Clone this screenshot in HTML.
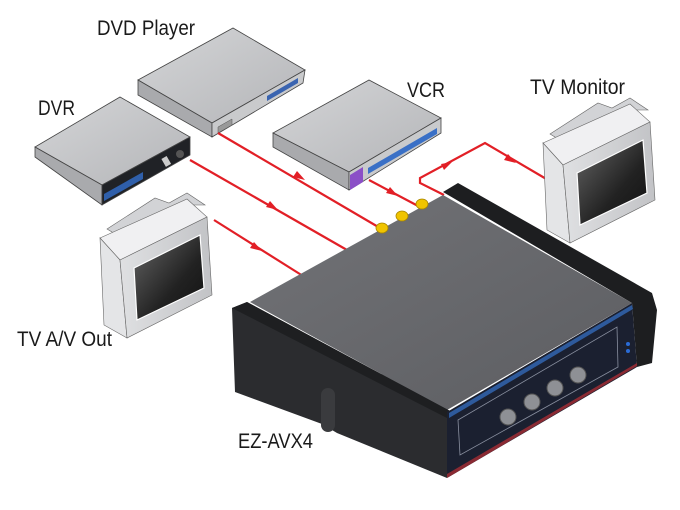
<!DOCTYPE html>
<html><head><meta charset="utf-8"><style>
html,body{margin:0;padding:0;background:#fff;}
svg{display:block;}
text{font-family:"Liberation Sans",sans-serif;fill:#1a1a1a;}
</style></head><body>
<svg width="680" height="510" viewBox="0 0 680 510" xmlns="http://www.w3.org/2000/svg">
<defs>
<linearGradient id="topg" x1="0" y1="0" x2="1" y2="1"><stop offset="0" stop-color="#d4d5d7"/><stop offset="1" stop-color="#b4b5b8"/></linearGradient>
<linearGradient id="swtop" x1="0" y1="0" x2="1" y2="1"><stop offset="0" stop-color="#727377"/><stop offset="1" stop-color="#5c5d61"/></linearGradient>
<linearGradient id="scr" x1="0" y1="0" x2="1" y2="1"><stop offset="0" stop-color="#666"/><stop offset="0.6" stop-color="#222"/><stop offset="1" stop-color="#111"/></linearGradient>
<linearGradient id="tvf" x1="0" y1="0" x2="1" y2="0"><stop offset="0" stop-color="#dfe0e2"/><stop offset="1" stop-color="#c2c3c6"/></linearGradient>
<g id="tv">
<polygon points="550,134 598,103 612,108 630,98 648,110 632,110 560,140" fill="#d2d3d6" stroke="#666" stroke-width="0.6"/>
<polygon points="543,143 630,104 650,122 563,165" fill="#f0f0f2" stroke="#666" stroke-width="0.6"/>
<polygon points="543,143 563,165 570,243 547,230" fill="#e4e5e7" stroke="#666" stroke-width="0.6"/>
<polygon points="563,165 650,122 655,200 570,243" fill="url(#tvf)" stroke="#666" stroke-width="0.6"/>
<polygon points="577,173 643,140 647,193 580,225" fill="url(#scr)" stroke="#fff" stroke-width="1.2"/>
</g>
</defs>

<!-- DVD Player -->
<polygon points="138,80 233,28 305,70 212,123" fill="url(#topg)" stroke="#444" stroke-width="0.8"/>
<polygon points="138,80 212,123 212,137 138,95" fill="#a9aaad" stroke="#444" stroke-width="0.8"/>
<polygon points="212,123 305,70 303,83 212,137" fill="#c9cacc" stroke="#444" stroke-width="0.8"/>
<polygon points="267,96 298,78 298,83 267,101" fill="#3a64b0"/>
<polygon points="218,127 232,119 232,125 218,133" fill="#999" stroke="#555" stroke-width="0.5"/>

<!-- DVR -->
<polygon points="35,147 120,97 190,137 102,185" fill="url(#topg)" stroke="#444" stroke-width="0.8"/>
<polygon points="35,147 102,185 102,205 35,157" fill="#a9aaad" stroke="#444" stroke-width="0.8"/>
<polygon points="102,185 190,137 190,155 102,205" fill="#202226" stroke="#444" stroke-width="0.8"/>
<polygon points="104,194 143,172 143,179 104,201" fill="#2f5faa"/>
<circle cx="180" cy="154" r="4" fill="#555"/>
<rect x="163" y="157" width="6" height="9" fill="#ccc" transform="rotate(-30 166 161)"/>

<!-- VCR -->
<polygon points="273,133 369,80 441,118 349,172" fill="url(#topg)" stroke="#444" stroke-width="0.8"/>
<polygon points="273,133 349,172 349,190 273,147" fill="#a9aaad" stroke="#444" stroke-width="0.8"/>
<polygon points="349,172 441,118 441,133 349,190" fill="#c9cacc" stroke="#444" stroke-width="0.8"/>
<polygon points="368,168 437,128 437,134 368,174" fill="#3a70c6"/>
<polygon points="350,175 363,167 363,182 350,190" fill="#8b4fc7"/>

<!-- red lines -->
<g stroke="#e21f26" stroke-width="2.2" fill="none">
<polyline points="214,220 303,276"/>
<polyline points="190,160 347,250"/>
<polyline points="218,133 380,228"/>
<polyline points="369,180 420,207"/>
<polyline points="444,195 420,183 420,178 485,143 548,180"/>
</g>
<g fill="#e21f26">
<polygon points="262,251 250,248 254,242"/>
<polygon points="278,210 266,207 270,201"/>
<polygon points="305,180 293,177 297,171"/>
<polygon points="398,196 386,193 390,187"/>
<polygon points="452,162 444,170 441,164"/>
<polygon points="516,163 504,160 508,154"/>
</g>

<use href="#tv"/>
<use href="#tv" transform="translate(-443,95)"/>

<!-- Switcher -->
<polygon points="250,302 443,195 632,303 447,410" fill="url(#swtop)"/>
<polygon points="443,192 458,183 652,293 657,310 652,363 637,367 632,303" fill="#1d1e20"/>
<polygon points="232,308 247,302 452,412 447,478 337,433 322,424 235,392" fill="#2b2c2f"/>
<polygon points="232,308 247,302 452,412 447,418" fill="#1e1f21"/>
<polygon points="447,412 632,303 637,367 447,478" fill="#1b2030"/>
<polygon points="449,413 632,305 633,309 449,418" fill="#2e5a9c"/>
<polygon points="447,474 637,363 637,366 447,478" fill="#8a2a33"/>
<polygon points="458,420 617,327 618,367 460,455" fill="none" stroke="#8a90a0" stroke-width="0.8"/>
<rect x="321" y="388" width="14" height="44" rx="7" fill="#3a3b3e"/>
<g fill="#8e9095" stroke="#555" stroke-width="1">
<circle cx="508" cy="417" r="8"/><circle cx="532" cy="402" r="8"/><circle cx="555" cy="388" r="8"/><circle cx="578" cy="375" r="8"/>
</g>
<circle cx="628" cy="344" r="2" fill="#2a6bd6"/><circle cx="628" cy="351" r="2" fill="#2a6bd6"/>
<g fill="#f0c400" stroke="#a88600" stroke-width="0.8">
<ellipse cx="382" cy="228" rx="6" ry="5"/><ellipse cx="402" cy="216" rx="6" ry="5"/><ellipse cx="422" cy="204" rx="6" ry="5"/>
</g>

<text x="97" y="35" font-size="21" textLength="98" lengthAdjust="spacingAndGlyphs">DVD Player</text>
<text x="38" y="115" font-size="21" textLength="37" lengthAdjust="spacingAndGlyphs">DVR</text>
<text x="407" y="97" font-size="21" textLength="38" lengthAdjust="spacingAndGlyphs">VCR</text>
<text x="530" y="94" font-size="21" textLength="95" lengthAdjust="spacingAndGlyphs">TV Monitor</text>
<text x="17" y="346" font-size="21" textLength="95" lengthAdjust="spacingAndGlyphs">TV A/V Out</text>
<text x="238" y="448" font-size="21" textLength="75" lengthAdjust="spacingAndGlyphs">EZ-AVX4</text>
</svg>
</body></html>
